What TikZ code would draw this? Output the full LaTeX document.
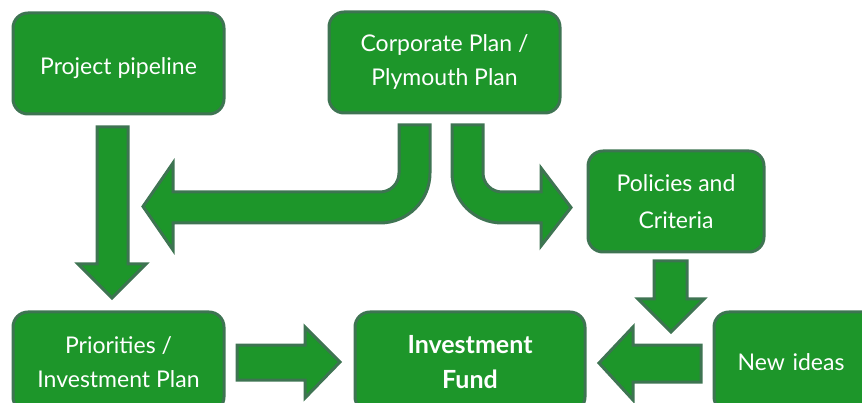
\documentclass[tikz,border=0pt]{standalone}
\usepackage{fontspec}
\setmainfont{Lato}
\definecolor{boxfill}{RGB}{29,150,42}
\definecolor{boxedge}{RGB}{62,116,82}
\begin{document}
\begin{tikzpicture}[x=1pt,y=-1pt,
  box/.style={draw=boxedge, fill=boxfill, line width=3pt, rounded corners=15pt,
    text=white, align=center, inner sep=0pt, font=\fontsize{23}{34}\selectfont},
  blockarrow/.style={draw=boxedge, fill=boxfill, line width=3pt}]
\useasboundingbox (0,0) rectangle (862,403);
\clip (0,0) rectangle (862,403);
% boxes
\node[box, minimum width=211pt, minimum height=101pt] (pp) at (118.5,63.5) {\raisebox{-5pt}[17pt][5pt]{Project pipeline}};
\node[box, minimum width=231pt, minimum height=101pt] (cp) at (444.5,62.5) {Corporate Plan /\\Plymouth Plan};
\node[box, minimum width=176pt, minimum height=101pt, font=\fontsize{23}{37}\selectfont] (pc) at (676,201.5) {Policies and\\Criteria};
\node[box, minimum width=211pt, minimum height=100pt] (pi) at (118.5,362) {Priorities /\\Investment Plan};
\node[box, minimum width=230pt, minimum height=100pt, font=\bfseries\fontsize{25}{35}\selectfont] (if) at (470,362) {Investment\\Fund};
\node[box, minimum width=166pt, minimum height=100pt, text width=140pt] (ni) at (797,362) {\raisebox{-2pt}[17pt][5pt]{New ideas}\hspace*{12pt}};
% straight block arrows
\draw[blockarrow] (97,127) -- (128,127) -- (128,264) -- (146,264) -- (112,298) -- (78,264) -- (97,264) -- cycle;
\draw[blockarrow] (654,261) -- (687,261) -- (687,299) -- (704,299) -- (671,332) -- (638,299) -- (654,299) -- cycle;
\draw[blockarrow] (701,345) -- (701,382) -- (633,382) -- (633,400) -- (599,363) -- (633,327) -- (633,345) -- cycle;
\draw[blockarrow] (237,345) -- (305,345) -- (305,327) -- (340,362) -- (305,398) -- (305,380) -- (237,380) -- cycle;
% bent arrow to the left
\draw[blockarrow] (430,125) -- (430,173) arc[start angle=0, end angle=90, radius=50] -- (173,223) -- (173,250) -- (143,206.5) -- (173,163) -- (173,192) -- (380,192) arc[start angle=90, end angle=0, radius=19] -- (399,125) -- cycle;
% bent arrow to the right
\draw[blockarrow] (452,125) -- (452,173) arc[start angle=180, end angle=90, radius=50] -- (541,223) -- (541,246) -- (571,207.5) -- (541,168) -- (541,192) -- (502,192) arc[start angle=90, end angle=180, radius=19] -- (483,125) -- cycle;
\end{tikzpicture}
\end{document}
